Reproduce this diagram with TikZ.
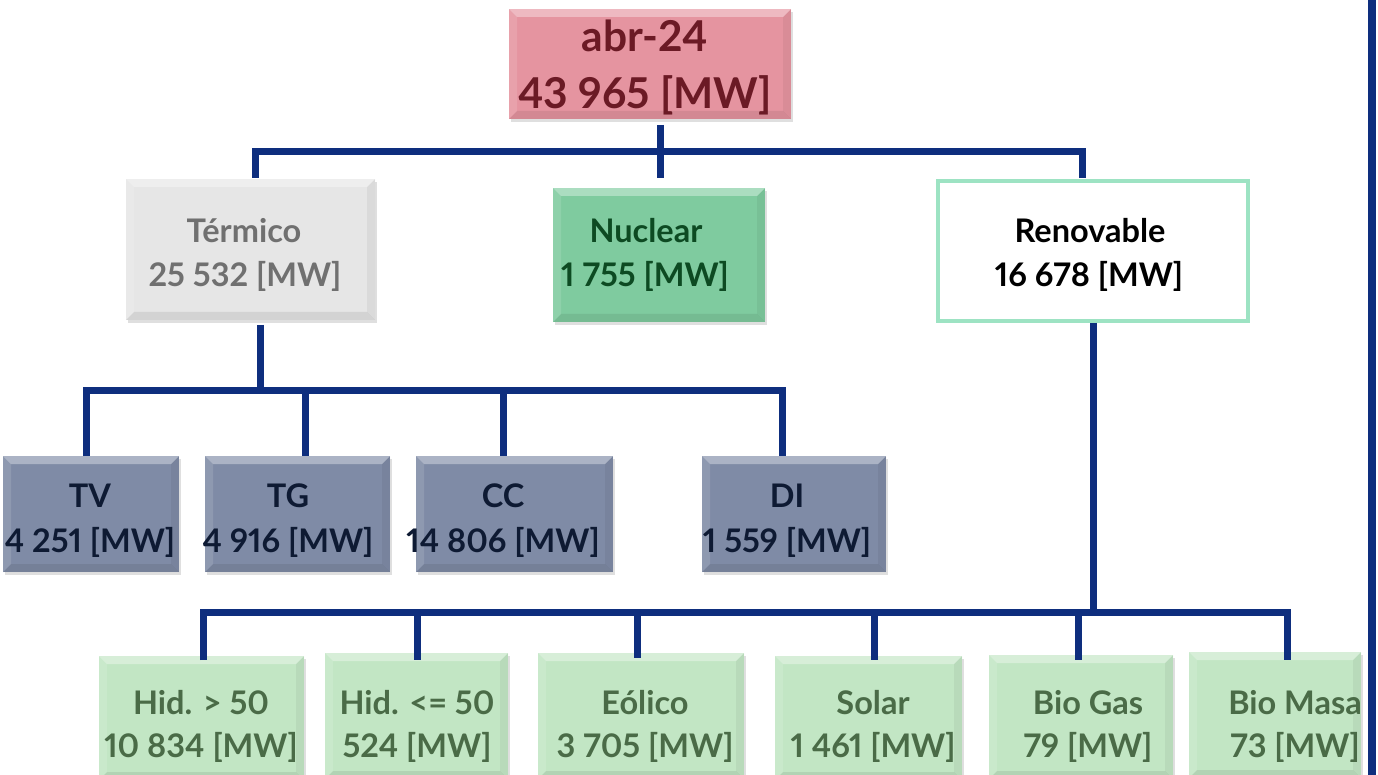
\documentclass[tikz,border=0pt]{standalone}
\usepackage{fontspec}
\setmainfont{Lato}[Numbers=Proportional]
\usetikzlibrary{shadows,calc}
\definecolor{navy}{RGB}{14,46,126}
\definecolor{pinkF}{RGB}{229,148,160}
\definecolor{pinkT}{RGB}{107,26,37}
\definecolor{greyF}{RGB}{230,230,230}
\definecolor{greyT}{RGB}{112,112,112}
\definecolor{nucF}{RGB}{127,203,159}
\definecolor{nucT}{RGB}{13,74,34}
\definecolor{renB}{RGB}{157,227,195}
\definecolor{slateF}{RGB}{127,139,166}
\definecolor{slateT}{RGB}{14,26,51}
\definecolor{lgF}{RGB}{194,230,196}
\definecolor{lgT}{RGB}{74,107,71}
\tikzset{
  bevel/.style={path picture={
    \fill[white,opacity=0.35] (path picture bounding box.north west) -- (path picture bounding box.north east)
      -- ([shift={(-8pt,-8pt)}]path picture bounding box.north east) -- ([shift={(8pt,-8pt)}]path picture bounding box.north west) -- cycle;
    \fill[white,opacity=0.12] (path picture bounding box.north west) -- ([shift={(8pt,-8pt)}]path picture bounding box.north west)
      -- ([shift={(8pt,8pt)}]path picture bounding box.south west) -- (path picture bounding box.south west) -- cycle;
    \fill[black,opacity=0.05] (path picture bounding box.north east) -- ([shift={(-8pt,-8pt)}]path picture bounding box.north east)
      -- ([shift={(-8pt,8pt)}]path picture bounding box.south east) -- (path picture bounding box.south east) -- cycle;
    \fill[black,opacity=0.08] (path picture bounding box.south west) -- (path picture bounding box.south east)
      -- ([shift={(-8pt,8pt)}]path picture bounding box.south east) -- ([shift={(8pt,8pt)}]path picture bounding box.south west) -- cycle;
  }},
  box/.style={rectangle, inner sep=0pt, outer sep=0pt, bevel,
    drop shadow={opacity=0.25, shadow xshift=2pt, shadow yshift=-3pt}},
  conn/.style={draw=navy, line width=7pt},
  big/.style={font=\fontsize{42.5}{50}\selectfont\bfseries, anchor=base, inner sep=0pt},
  txt/.style={font=\fontsize{32.5}{40}\selectfont\bfseries, anchor=base, inner sep=0pt},
}
\begin{document}
\begin{tikzpicture}[x=1pt,y=-1pt]
\useasboundingbox (0,0) rectangle (1378,775);
% boxes
\node[box, fill=pinkF, minimum width=282pt, minimum height=110pt] (top) at (650,64) {};
\node[box, fill=greyF, minimum width=249pt, minimum height=141pt] (termico) at (250.5,249.5) {};
\node[box, fill=nucF, minimum width=212pt, minimum height=134pt] (nuclear) at (659,255) {};
\node[rectangle, draw=renB, line width=4pt, fill=white, minimum width=310pt, minimum height=140pt, inner sep=0pt] (reno) at (1093,251) {};
\node[box, fill=slateF, minimum width=176pt, minimum height=116pt] (tv) at (91,514) {};
\node[box, fill=slateF, minimum width=185pt, minimum height=116pt] (tg) at (297.5,514) {};
\node[box, fill=slateF, minimum width=197pt, minimum height=116pt] (cc) at (514.5,514) {};
\node[box, fill=slateF, minimum width=184pt, minimum height=116pt] (di) at (794,514) {};
\node[box, fill=lgF, minimum width=205pt, minimum height=124pt] (hid1) at (201.5,718) {};
\node[box, fill=lgF, minimum width=183pt, minimum height=126pt] (hid2) at (416.5,716) {};
\node[box, fill=lgF, minimum width=206pt, minimum height=126pt] (eol) at (641,716) {};
\node[box, fill=lgF, minimum width=187pt, minimum height=124pt] (sol) at (868.5,718) {};
\node[box, fill=lgF, minimum width=184pt, minimum height=124pt] (biog) at (1081,717) {};
\node[box, fill=lgF, minimum width=172pt, minimum height=126pt] (biom) at (1275,715) {};
% texts
\node[big, text=pinkT] (topA) at (645,52) {abr-24};
\node[big, text=pinkT] (topB) at (645,109) {43 965 [MW]};
\node[txt, text=greyT] (terA) at (244,243) {Térmico};
\node[txt, text=greyT] (terB) at (245,287) {25 532 [MW]};
\node[txt, text=nucT] (nucA) at (646,243) {Nuclear};
\node[txt, text=nucT] (nucB) at (645,287) {1 755 [MW]};
\node[txt, text=black] (renA) at (1090,243) {Renovable};
\node[txt, text=black] (renB) at (1089,287) {16 678 [MW]};
\node[txt, text=slateT] (tvA) at (90,507) {TV};
\node[txt, text=slateT] (tvB) at (90,552) {4 251 [MW]};
\node[txt, text=slateT] (tgA) at (288,507) {TG};
\node[txt, text=slateT] (tgB) at (288,552) {4 916 [MW]};
\node[txt, text=slateT] (ccA) at (503,507) {CC};
\node[txt, text=slateT] (ccB) at (503,552) {14 806 [MW]};
\node[txt, text=slateT] (diA) at (787,507) {DI};
\node[txt, text=slateT] (diB) at (787,552) {1 559 [MW]};
\node[txt, text=lgT] (h1A) at (201,714) {Hid. > 50};
\node[txt, text=lgT] (h1B) at (201,757) {10 834 [MW]};
\node[txt, text=lgT] (h2A) at (417,714) {Hid. <= 50};
\node[txt, text=lgT] (h2B) at (417,757) {524 [MW]};
\node[txt, text=lgT] (eoA) at (645,714) {Eólico};
\node[txt, text=lgT] (eoB) at (645,757) {3 705 [MW]};
\node[txt, text=lgT] (soA) at (873,714) {Solar};
\node[txt, text=lgT] (soB) at (873,757) {1 461 [MW]};
\node[txt, text=lgT] (bgA) at (1088,714) {Bio Gas};
\node[txt, text=lgT] (bgB) at (1088,757) {79 [MW]};
\node[txt, text=lgT] (bmA) at (1295,714) {Bio Masa};
\node[txt, text=lgT] (bmB) at (1295,757) {73 [MW]};
% coordinates
\coordinate (s1a) at (660,125);
\coordinate (s1b) at (660,178);
\coordinate (b1L) at (255,152);
\coordinate (b1R) at (1082,152);
\coordinate (s2a) at (260,325);
\coordinate (s2b) at (260,390);
\coordinate (b2L) at (86,390);
\coordinate (b2R) at (782,390);
\coordinate (b2a) at (305,390);
\coordinate (b2b) at (503,390);
\coordinate (s3a) at (1093,323);
\coordinate (s3b) at (1093,612);
\coordinate (b3L) at (203,612);
\coordinate (b3R) at (1287,612);
\coordinate (b3a) at (417,612);
\coordinate (b3b) at (637,612);
\coordinate (b3c) at (874,612);
\coordinate (b3d) at (1078,612);
\coordinate (edgeT) at (1372,0);
\coordinate (edgeB) at (1372,775);
% connectors
\draw[conn] (s1a) -- (s1b);
\draw[conn] ($(b1L |- termico.north)+(0,-1)$) -- (b1L) -- (b1R) -- ($(b1R |- reno.north)+(0,-1)$);
\draw[conn] (s2a) -- (s2b);
\draw[conn] (b2L |- tv.north) -- (b2L) -- (b2R) -- (b2R |- di.north);
\draw[conn] (b2a) -- (b2a |- tg.north);
\draw[conn] (b2b) -- (b2b |- cc.north);
\draw[conn] (s3a) -- (s3b);
\draw[conn] ($(b3L |- hid1.north)+(0,4)$) -- (b3L) -- (b3R) -- ($(b3R |- biom.north)+(0,8)$);
\draw[conn] (b3a) -- ($(b3a |- hid2.north)+(0,7)$);
\draw[conn] (b3b) -- ($(b3b |- eol.north)+(0,5)$);
\draw[conn] (b3c) -- ($(b3c |- sol.north)+(0,4)$);
\draw[conn] (b3d) -- ($(b3d |- biog.north)+(0,5)$);
\draw[draw=navy, line width=8pt] (edgeT) -- (edgeB);
\end{tikzpicture}
\end{document}
